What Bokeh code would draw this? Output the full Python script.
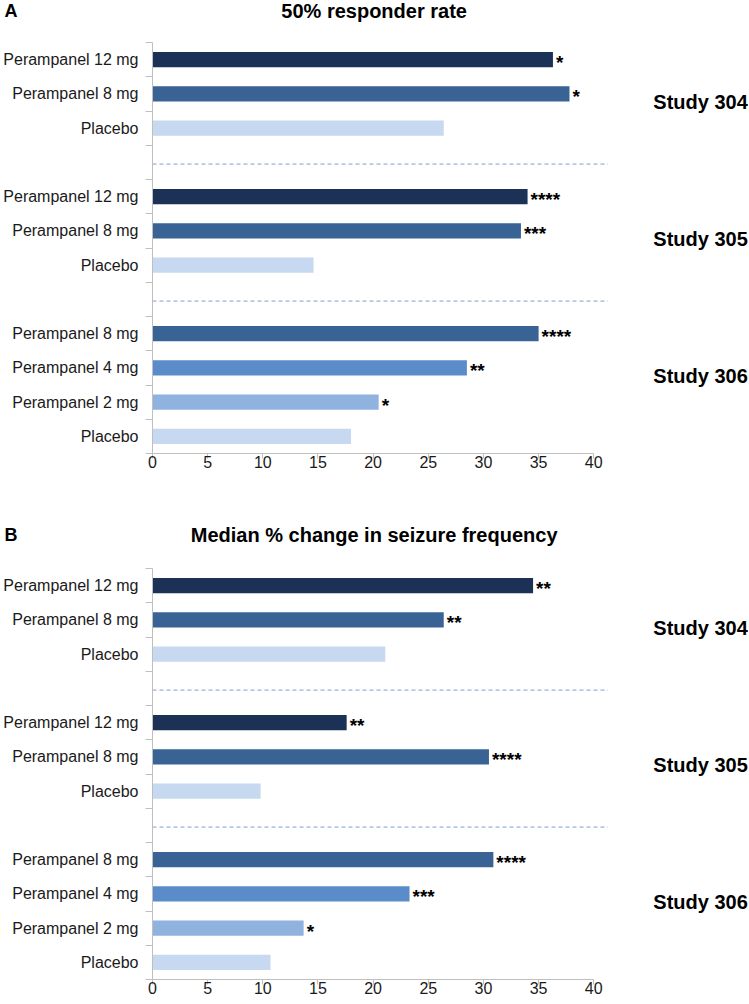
from bokeh.plotting import figure
from bokeh.models import Range1d, FixedTicker, ColumnDataSource
from bokeh.layouts import column
from bokeh.core.properties import value
from bokeh.embed import file_html
from bokeh.resources import INLINE

# ---------------- data ----------------
treatments = ["Perampanel 12 mg", "Perampanel 8 mg", "Placebo",
              "Perampanel 12 mg", "Perampanel 8 mg", "Placebo",
              "Perampanel 8 mg", "Perampanel 4 mg", "Perampanel 2 mg", "Placebo"]
studies = ["Study 304"] * 3 + ["Study 305"] * 3 + ["Study 306"] * 4
responder_rate = [36.3, 37.8, 26.4, 34.0, 33.4, 14.6, 35.0, 28.5, 20.5, 18.0]
responder_sig = ["*", "*", "", "****", "***", "", "****", "**", "*", ""]
median_change = [34.5, 26.4, 21.1, 17.6, 30.5, 9.8, 30.9, 23.3, 13.7, 10.7]
median_sig = ["**", "**", "", "**", "****", "", "****", "***", "*", ""]
x_ticks = [0, 5, 10, 15, 20, 25, 30, 35, 40]
panel_letters = ["A", "B"]
panel_titles = ["50% responder rate", "Median % change in seizure frequency"]

# ---------------- style ----------------
COLORS = {
    "Perampanel 12 mg": "#1b3155",
    "Perampanel 8 mg": "#3a6395",
    "Perampanel 4 mg": "#5a8cc9",
    "Perampanel 2 mg": "#8fb2de",
    "Placebo": "#c6d9f0",
}
FONT = "Liberation Sans"
AXIS_GRAY = "#bfbfbf"
TEXT_COLOR = "#1a1a1a"
FIG_W = 748
LEFT = 151
PX_PER_UNIT = 11.05

# slot layout (one empty slot between studies)
slots, gaps = [], []
pos, prev = 0, None
for s in studies:
    if prev is not None and s != prev:
        pos += 1
        gaps.append(pos)
    pos += 1
    slots.append(pos)
    prev = s
n_slots = pos
study_names, study_pos = [], []
for s, y in zip(studies, slots):
    if s not in study_names:
        study_names.append(s)
        study_pos.append(y + 1.25)
boundaries = [k + 0.5 for k in range(0, n_slots + 1)]


def make_header(letter, title, height, center_from_top):
    yc = height - center_from_top
    h = figure(width=FIG_W, height=height, output_backend="svg", toolbar_location=None,
               x_range=Range1d(LEFT, FIG_W), y_range=Range1d(0, height),
               x_axis_type=None,
               min_border_left=LEFT, min_border_right=0, min_border_top=0, min_border_bottom=0)
    h.outline_line_color = None
    h.grid.visible = False
    h.text(x=[373], y=[yc], text=[title], text_font=value(FONT), text_font_size="20px",
           text_font_style="bold", text_color="black", text_align="center",
           text_baseline="middle")
    ya = h.yaxis[0]
    ya.ticker = FixedTicker(ticks=[yc], minor_ticks=[])
    ya.major_label_overrides = {yc: letter}
    ya.axis_line_color = None
    ya.major_tick_line_color = None
    ya.minor_tick_line_color = None
    ya.major_tick_out = 0
    ya.major_tick_in = 0
    ya.minor_tick_out = 0
    ya.minor_tick_in = 0
    ya.major_label_standoff = 135
    ya.major_label_text_font = FONT
    ya.major_label_text_font_size = "18px"
    ya.major_label_text_font_style = "bold"
    ya.major_label_text_color = "black"
    return h


def make_panel(values, sig, height, top, bottom):
    x_end = (FIG_W - LEFT) / PX_PER_UNIT
    p = figure(width=FIG_W, height=height, output_backend="svg", toolbar_location=None,
               x_range=Range1d(0, x_end), y_range=Range1d(n_slots + 0.5, 0.5),
               min_border_left=LEFT, min_border_right=0, min_border_top=top,
               min_border_bottom=bottom)
    p.outline_line_color = None
    p.grid.visible = False
    p.background_fill_color = "white"
    p.border_fill_color = "white"

    src = ColumnDataSource(dict(
        y=slots, v=values, sig=sig, name=treatments,
        color=[COLORS[t] for t in treatments]))
    p.hbar(y="y", left=0, right="v", height=0.44, fill_color="color",
           line_color=None, source=src)
    p.text(x="v", y="y", text="sig", source=src, x_offset=3, y_offset=3,
           text_font=value(FONT), text_font_size="19px", text_font_style="bold",
           text_color="black", text_align="left", text_baseline="alphabetic")

    # dashed separators between studies
    p.segment(x0=[0] * len(gaps), x1=[41.3] * len(gaps),
              y0=[g + 0.05 for g in gaps], y1=[g + 0.05 for g in gaps],
              line_color="#7f9fd4", line_width=1, line_dash="4 3")

    # study labels
    p.text(x=[45.4] * len(study_names), y=study_pos, text=study_names,
           text_font=value(FONT), text_font_size="20px", text_font_style="bold",
           text_color="black", text_align="left", text_baseline="middle")

    # x axis
    xa = p.xaxis[0]
    xa.ticker = FixedTicker(ticks=x_ticks)
    xa.bounds = (0, 40)
    xa.axis_line_color = AXIS_GRAY
    xa.major_tick_line_color = AXIS_GRAY
    xa.major_tick_out = 5
    xa.major_tick_in = 0
    xa.minor_tick_line_color = None
    xa.major_label_standoff = -3
    xa.major_label_text_font = FONT
    xa.major_label_text_font_size = "16px"
    xa.major_label_text_color = TEXT_COLOR

    # y axis: labels at category centres, ticks at category boundaries
    ya = p.yaxis[0]
    ya.ticker = FixedTicker(ticks=slots, minor_ticks=boundaries)
    ya.major_label_overrides = {y: t for y, t in zip(slots, treatments)}
    ya.axis_line_color = AXIS_GRAY
    ya.major_tick_line_color = None
    ya.major_tick_out = 0
    ya.major_tick_in = 0
    ya.minor_tick_line_color = AXIS_GRAY
    ya.minor_tick_out = 7
    ya.minor_tick_in = 0
    ya.major_label_standoff = 7
    ya.major_label_text_font = FONT
    ya.major_label_text_font_size = "16px"
    ya.major_label_text_color = TEXT_COLOR
    return p


h1 = make_header(panel_letters[0], panel_titles[0], height=40, center_from_top=10)
p1 = make_panel(responder_rate, responder_sig, height=459, top=2, bottom=46)
h2 = make_header(panel_letters[1], panel_titles[1], height=67, center_from_top=35)
p2 = make_panel(median_change, median_sig, height=435, top=2, bottom=22)

layout = column(h1, p1, h2, p2)
open("out.html", "w").write(file_html(layout, INLINE))
